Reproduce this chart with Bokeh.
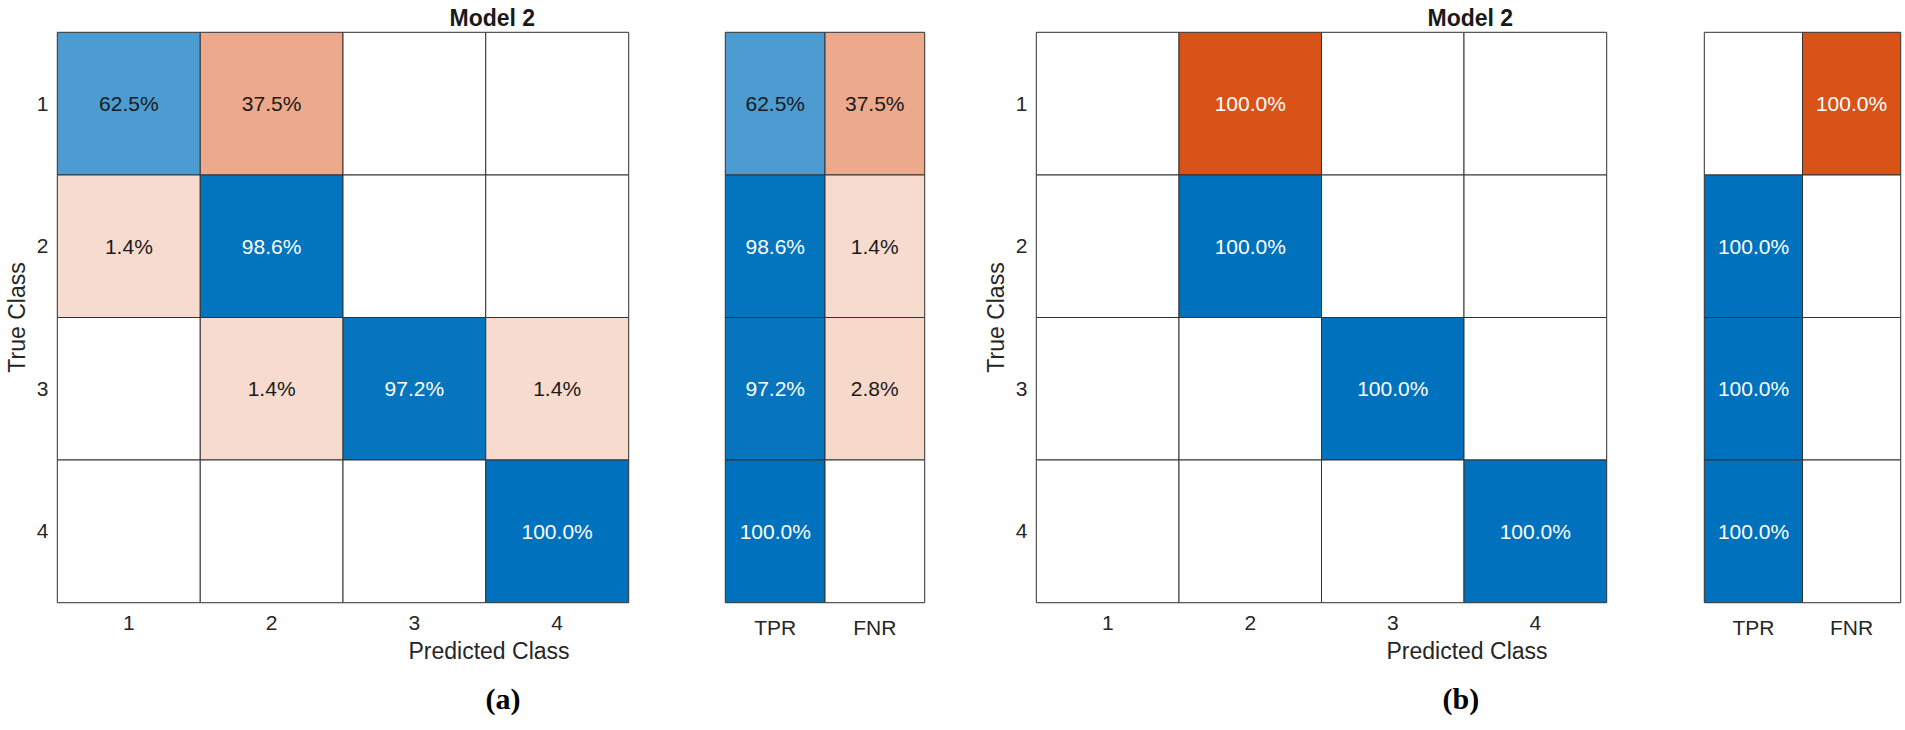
from bokeh.plotting import figure
from bokeh.models import FactorRange, ColumnDataSource, Title
from bokeh.layouts import row
from bokeh.embed import file_html
from bokeh.resources import INLINE
from bokeh.core.properties import value

# ---------------- data ----------------
classes = ["1", "2", "3", "4"]
summary_cols = ["TPR", "FNR"]
title_text = "Model 2"
xlabel_text = "Predicted Class"
ylabel_text = "True Class"
caption_a = "(a)"
caption_b = "(b)"

# row-normalised confusion matrices (%), rows = true class, cols = predicted class
cm_a = [
    [62.5, 37.5, 0.0, 0.0],
    [1.4, 98.6, 0.0, 0.0],
    [0.0, 1.4, 97.2, 1.4],
    [0.0, 0.0, 0.0, 100.0],
]
tpr_a = [62.5, 98.6, 97.2, 100.0]
fnr_a = [37.5, 1.4, 2.8, 0.0]

cm_b = [
    [0.0, 100.0, 0.0, 0.0],
    [0.0, 100.0, 0.0, 0.0],
    [0.0, 0.0, 100.0, 0.0],
    [0.0, 0.0, 0.0, 100.0],
]
tpr_b = [0.0, 100.0, 100.0, 100.0]
fnr_b = [100.0, 0.0, 0.0, 0.0]

# ---------------- style ----------------
FONT = "Liberation Sans"
SERIF = "Liberation Serif"
BLUE = (0, 114, 189)
ORANGE = (217, 83, 25)
TXT = "#262626"
FRAME_H = 570
TOP = 30
BOTTOM = 130


def shade(v, base):
    if v <= 0:
        return "#ffffff"
    t = 0.2 + 0.8 * v / 100.0
    r, g, b = [int(round(255 - t * (255 - c))) for c in base]
    return "#%02x%02x%02x" % (r, g, b)


def cell_source(matrix_rows, xfactors, diag_rule):
    xs, ys, cols, labs, tcols = [], [], [], [], []
    for i, rname in enumerate(classes):
        for j, cname in enumerate(xfactors):
            v = matrix_rows[i][j]
            base = BLUE if diag_rule(i, j) else ORANGE
            xs.append(cname)
            ys.append(rname)
            cols.append(shade(v, base))
            labs.append("%.1f%%" % v if v > 0 else "")
            tcols.append("#ffffff" if v > 75 else "#1a1a1a")
    return ColumnDataSource(dict(x=xs, y=ys, color=cols, label=labs, tcolor=tcols))


def make_fig(xfactors, frame_w, left, right, show_y):
    p = figure(
        x_range=FactorRange(*xfactors),
        y_range=FactorRange(*classes[::-1]),
        frame_width=frame_w, frame_height=FRAME_H,
        width=left + frame_w + right, height=TOP + FRAME_H + BOTTOM,
        min_border_left=left, min_border_right=right,
        min_border_top=TOP, min_border_bottom=BOTTOM,
        output_backend="svg", toolbar_location=None, tools="",
    )
    p.xgrid.visible = False
    p.ygrid.visible = False
    p.axis.axis_line_color = None
    p.axis.major_tick_line_color = None
    p.axis.minor_tick_line_color = None
    p.axis.major_tick_out = 0
    p.axis.major_tick_in = 0
    p.axis.major_label_text_font = FONT
    p.axis.major_label_text_font_size = "21px"
    p.axis.major_label_text_color = TXT
    p.xaxis.major_label_standoff = 13
    p.yaxis.major_label_standoff = 9
    p.yaxis.visible = show_y
    if show_y:
        p.yaxis.axis_label = ylabel_text
        p.yaxis.axis_label_text_font = FONT
        p.yaxis.axis_label_text_font_size = "23px"
        p.yaxis.axis_label_text_font_style = "normal"
        p.yaxis.axis_label_text_color = TXT
        p.yaxis.axis_label_standoff = 4
    p.outline_line_color = "#555555"
    p.outline_line_width = 1.5
    p.background_fill_color = "white"
    p.border_fill_color = "white"
    return p


def draw_cells(p, src):
    p.rect(x="x", y="y", width=1, height=1, source=src,
           fill_color="color", line_color="#333333", line_width=1)
    p.text(x="x", y="y", text="label", source=src, text_color="tcolor",
           text_align="center", text_baseline="middle",
           text_font=value(FONT), text_font_size="21px")


def add_texts(p, title_off, xlabel_off, caption, caption_off):
    p.add_layout(Title(text=title_text, align="left", offset=title_off,
                       text_font=FONT, text_font_style="bold", text_font_size="23px",
                       text_color="#1a1a1a", standoff=4), "above")
    p.add_layout(Title(text=xlabel_text, align="left", offset=xlabel_off,
                       text_font=FONT, text_font_style="normal", text_font_size="23px",
                       text_color=TXT, standoff=7), "below")
    p.add_layout(Title(text=caption, align="left", offset=caption_off,
                       text_font=SERIF, text_font_style="bold", text_font_size="30px",
                       text_color="black", standoff=24), "below")


# ---------------- panel (a) ----------------
fa = make_fig(classes, 571, 54, 20, True)
draw_cells(fa, cell_source(cm_a, classes, lambda i, j: i == j))
add_texts(fa, 392, 351, caption_a, 428)

sa = make_fig(summary_cols, 199, 77, 10, False)
draw_cells(sa, cell_source([[t, f] for t, f in zip(tpr_a, fnr_a)], summary_cols,
                           lambda i, j: j == 0))

# ---------------- panel (b) ----------------
fb = make_fig(classes, 570, 102, 20, True)
draw_cells(fb, cell_source(cm_b, classes, lambda i, j: i == j))
add_texts(fb, 391, 350, caption_b, 406)

sb = make_fig(summary_cols, 196, 78, 8, False)
draw_cells(sb, cell_source([[t, f] for t, f in zip(tpr_b, fnr_b)], summary_cols,
                           lambda i, j: j == 0))

layout = row(fa, sa, fb, sb)
open("out.html", "w").write(file_html(layout, INLINE))
